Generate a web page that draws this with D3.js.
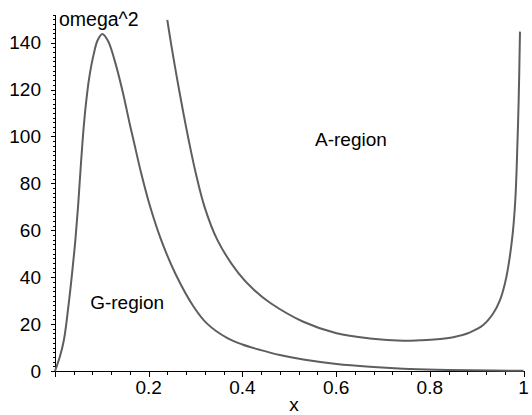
<!DOCTYPE html>
<html>
<head>
<meta charset="utf-8">
<script src="https://cdn.jsdelivr.net/npm/d3@7"></script>
<style>
  html, body { margin: 0; padding: 0; background: #fff; }
  svg { display: block; }
  text { font-family: "Liberation Sans", Arial, Helvetica, sans-serif; fill: #000; }
</style>
</head>
<body>
<svg id="chart" width="532" height="415"></svg>
<script>
// Gravity-wave boundary curve (lower curve)
const gX = [0, 0.0105, 0.019, 0.0285, 0.0365, 0.0435, 0.0492, 0.0540, 0.0590, 0.0650, 0.0730, 0.0825, 0.0910, 0.101,
            0.113, 0.126, 0.1445, 0.160, 0.1675, 0.1840, 0.2030, 0.2265, 0.2565, 0.2960, 0.3240, 0.3680, 0.400, 0.4376,
            0.480, 0.530, 0.601, 0.672, 0.743, 0.815, 0.886, 1.0];
const gY = [0, 6.2, 13.2, 27.4, 41.7, 55.9, 70.1, 84.3, 98.5, 112, 125, 135, 141, 143.7,
            140.8, 133.3, 119.1, 104.9, 98.5, 84.3, 70.1, 55.9, 41.7, 27.4, 20.3, 14.0, 11.3, 9.0,
            6.8, 4.9, 3.0, 1.8, 1.0, 0.55, 0.3, 0.1];

// Acoustic-wave boundary curve (upper curve)
const aX = [0.2397, 0.2476, 0.2598, 0.2728, 0.2853, 0.3005, 0.3190, 0.3465, 0.3915, 0.4250, 0.4589, 0.530,
            0.601, 0.672, 0.743, 0.779, 0.815, 0.850, 0.886, 0.914, 0.9355, 0.950, 0.9605, 0.9675, 0.977,
            0.9825, 0.9855, 0.9897, 0.9925];
const aY = [149.7, 139.7, 125.5, 111.3, 98.5, 84.3, 70.1, 55.9, 41.7, 34.5, 29.1, 21.0,
            16.1, 13.9, 12.9, 13.1, 13.5, 14.4, 16.5, 19.6, 24.6, 30.3, 37.4, 44.5, 58.7,
            72.9, 87.1, 115.6, 144.7];

const xTicks = [0.2, 0.4, 0.6, 0.8, 1];
const yTicks = [0, 20, 40, 60, 80, 100, 120, 140];
const regionLabels = ["G-region", "A-region"];
const regionPos = [[0.075, 26.5], [0.555, 96]];

const svg = d3.select("#chart");
const x = d3.scaleLinear().domain([0, 1]).range([55, 523.5]);
const y = d3.scaleLinear().domain([0, 152]).range([371, 14.5]);

// pixel-aligned positions for crisp 1px strokes
const px = v => Math.round(x(v)) + 0.5;
const py = v => Math.round(y(v)) + 0.5;

// minor tick positions
const xMinor = d3.range(0, 1.0001, 0.04).filter(v => Math.abs(v / 0.2 - Math.round(v / 0.2)) > 1e-6);
const yMinor = d3.range(0, 152.001, 2).filter(v => v % 20 !== 0);

const axes = svg.append("g").attr("class", "axes")
  .attr("stroke", "#000").attr("stroke-width", 1).attr("shape-rendering", "crispEdges");

// x axis
axes.append("line").attr("x1", px(0)).attr("x2", px(1)).attr("y1", py(0)).attr("y2", py(0));
axes.selectAll("line.xmin").data(xMinor).join("line").attr("class", "xmin")
  .attr("x1", d => px(d)).attr("x2", d => px(d)).attr("y1", py(0)).attr("y2", py(0) + 3);
axes.selectAll("line.xmaj").data([0].concat(xTicks)).join("line").attr("class", "xmaj")
  .attr("x1", d => px(d)).attr("x2", d => px(d)).attr("y1", py(0)).attr("y2", py(0) + 5);
svg.selectAll("text.xlab").data(xTicks).join("text").attr("class", "xlab")
  .attr("x", d => x(d)).attr("y", y(0) + 23).attr("text-anchor", "middle")
  .attr("font-size", 19).text(d => d3.format("~g")(d));

// y axis
axes.append("line").attr("x1", px(0)).attr("x2", px(0)).attr("y1", py(0)).attr("y2", py(152));
axes.selectAll("line.ymin").data(yMinor).join("line").attr("class", "ymin")
  .attr("y1", d => py(d)).attr("y2", d => py(d)).attr("x1", px(0) - 3).attr("x2", px(0));
axes.selectAll("line.ymaj").data(yTicks).join("line").attr("class", "ymaj")
  .attr("y1", d => py(d)).attr("y2", d => py(d)).attr("x1", px(0) - 5).attr("x2", px(0));
svg.selectAll("text.ylab").data(yTicks).join("text").attr("class", "ylab")
  .attr("x", x(0) - 14).attr("y", d => y(d) + 6.5).attr("text-anchor", "end")
  .attr("font-size", 19).text(d => d);

// axis titles
svg.append("text").attr("x", 294).attr("y", 411).attr("text-anchor", "middle").attr("font-size", 19).text("x");
svg.append("text").attr("x", 59).attr("y", 26).attr("font-size", 19.5).text("omega^2");

// curves
const line = d3.line().x(d => x(d[0])).y(d => y(d[1])).curve(d3.curveCatmullRom.alpha(0.5));
const gData = gX.map((v, i) => [v, gY[i]]);
const aData = aX.map((v, i) => [v, aY[i]]);
svg.selectAll("path.curve").data([gData, aData]).join("path").attr("class", "curve")
  .attr("d", line).attr("fill", "none").attr("stroke", "#5e5e5e").attr("stroke-width", 2);

// region labels
svg.selectAll("text.region").data(regionLabels).join("text").attr("class", "region")
  .attr("x", (d, i) => x(regionPos[i][0])).attr("y", (d, i) => y(regionPos[i][1]))
  .attr("font-size", 19).text(d => d);
</script>
</body>
</html>
